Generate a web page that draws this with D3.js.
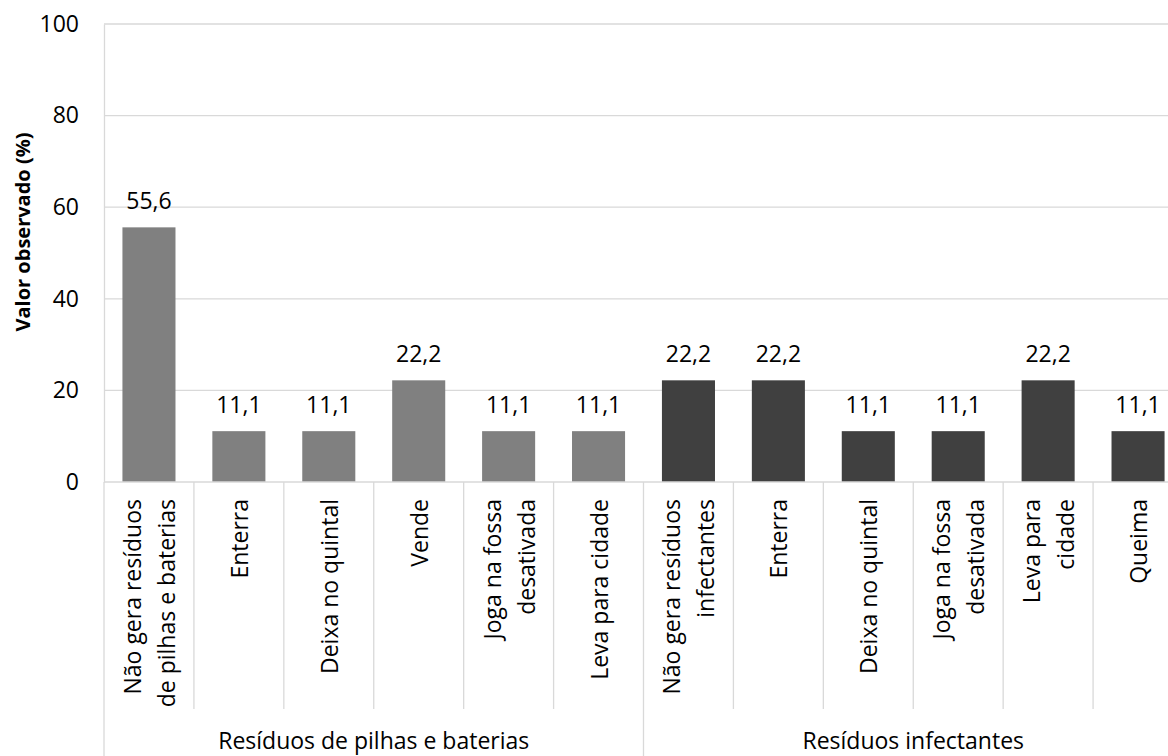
<!DOCTYPE html>
<html>
<head>
<meta charset="utf-8">
<script src="https://cdn.jsdelivr.net/npm/d3@7"></script>
<style>
  html, body { margin: 0; padding: 0; background: #fff; }
  svg { display: block; font-family: "Open Sans", sans-serif; }
</style>
</head>
<body>
<svg id="chart" width="1168" height="756"></svg>
<script>
// ---- data ----
const groups = ["Resíduos de pilhas e baterias", "Resíduos infectantes"];
const categories = [
  "Não gera resíduos\nde pilhas e baterias", "Enterra", "Deixa no quintal", "Vende",
  "Joga na fossa\ndesativada", "Leva para cidade",
  "Não gera resíduos\ninfectantes", "Enterra", "Deixa no quintal",
  "Joga na fossa\ndesativada", "Leva para\ncidade", "Queima"
];
const categoryGroup = [0,0,0,0,0,0,1,1,1,1,1,1];
const values = [55.6, 11.1, 11.1, 22.2, 11.1, 11.1, 22.2, 22.2, 11.1, 11.1, 22.2, 11.1];
const yTicks = [0, 20, 40, 60, 80, 100];
const yTitle = "Valor observado (%)";
const groupColors = ["#808080", "#404040"];

// ---- layout ----
const svg = d3.select("#chart");
const plotLeft = 104, plotRight = 1183, plotTop = 24, plotBase = 482;
const idx = categories.map((d, i) => i);
const x = d3.scaleBand().domain(idx).range([plotLeft, plotRight]).paddingInner(0.41).paddingOuter(0.205);
const xb = d3.scaleBand().domain(idx).range([plotLeft, plotRight]);
const y = d3.scaleLinear().domain([0, 100]).range([plotBase, plotTop]);
const gridColor = "#d9d9d9";

// gridlines
svg.append("g").selectAll("line").data(yTicks.filter(t => t > 0)).join("line")
  .attr("x1", plotLeft).attr("x2", plotRight)
  .attr("y1", d => y(d)).attr("y2", d => y(d))
  .attr("stroke", gridColor).attr("stroke-width", 1.3);

// y axis
const yAxis = svg.append("g").attr("transform", `translate(${plotLeft},0)`)
  .call(d3.axisLeft(y).tickValues(yTicks).tickSize(0).tickPadding(25).tickFormat(d3.format("d")));
yAxis.select(".domain").attr("stroke", gridColor).attr("stroke-width", 1.3);
yAxis.selectAll("text").attr("font-size", 23).attr("fill", "#000")
  .attr("font-family", "'Open Sans', sans-serif");

// bars
svg.append("g").selectAll("rect").data(values).join("rect")
  .attr("x", (d, i) => x(i)).attr("width", x.bandwidth())
  .attr("y", d => y(d)).attr("height", d => plotBase - y(d))
  .attr("fill", (d, i) => groupColors[categoryGroup[i]]);

// value labels
const fmt = v => d3.format(".1f")(v).replace(".", ",");
svg.append("g").selectAll("text").data(values).join("text")
  .attr("x", (d, i) => xb(i) + xb.bandwidth() / 2)
  .attr("y", d => y(d) - 18)
  .attr("text-anchor", "middle").attr("font-size", 23).attr("fill", "#000")
  .text(d => fmt(d));

// x axis line
svg.append("line").attr("x1", plotLeft).attr("x2", plotRight).attr("y1", plotBase).attr("y2", plotBase)
  .attr("stroke", gridColor).attr("stroke-width", 1.3);

// category divider ticks
const inner = d3.range(1, categories.length).filter(i => categoryGroup[i] === categoryGroup[i - 1]);
svg.append("g").selectAll("line").data(inner).join("line")
  .attr("x1", i => xb(i)).attr("x2", i => xb(i))
  .attr("y1", plotBase).attr("y2", 709)
  .attr("stroke", gridColor).attr("stroke-width", 1.3);

// group dividers
const groupStarts = groups.map((g, gi) => categoryGroup.indexOf(gi));
const groupEdges = groupStarts.map(i => xb(i)).concat([plotRight]);
svg.append("g").selectAll("line").data(groupEdges).join("line")
  .attr("x1", d => d).attr("x2", d => d).attr("y1", plotBase).attr("y2", 756)
  .attr("stroke", gridColor).attr("stroke-width", 1.3);

// category labels (rotated)
const lineGap = 34;
categories.forEach((c, i) => {
  const lines = c.split("\n");
  const cx = xb(i) + xb.bandwidth() / 2;
  const t = svg.append("text")
    .attr("transform", `translate(${cx},499) rotate(-90)`)
    .attr("text-anchor", "end").attr("font-size", 23).attr("fill", "#000");
  lines.forEach((l, k) => {
    const off = 9 + (k - (lines.length - 1) / 2) * lineGap;
    t.append("tspan").attr("x", 0).attr("y", off).text(l);
  });
});

// group labels
groups.forEach((g, gi) => {
  const cx = (groupEdges[gi] + groupEdges[gi + 1]) / 2;
  svg.append("text").attr("x", cx).attr("y", 749).attr("text-anchor", "middle")
    .attr("font-size", 23).attr("fill", "#000").text(g);
});

// y title
svg.append("text").attr("transform", `translate(30,232) rotate(-90)`)
  .attr("text-anchor", "middle").attr("font-size", 20).attr("font-weight", "bold")
  .attr("fill", "#000").text(yTitle);
</script>
</body>
</html>
